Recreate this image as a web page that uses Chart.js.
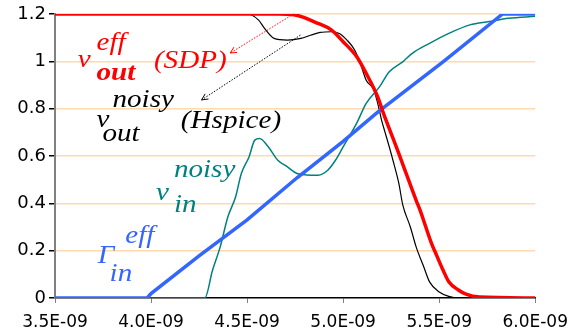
<!DOCTYPE html>
<html>
<head>
<meta charset="utf-8">
<script src="https://cdn.jsdelivr.net/npm/chart.js@4"></script>
<style>
  html, body { margin: 0; padding: 0; background: #fff; }
  #chart { display: block; }
</style>
</head>
<body>
<canvas id="chart" width="577" height="333"></canvas>
<script>
// time in ns, labels are written as x.xE-09
const xTicks = [3.5, 4.0, 4.5, 5.0, 5.5, 6.0];
const yTicks = [0, 0.2, 0.4, 0.6, 0.8, 1, 1.2];

// v_out eff (SDP) - red
const voutEffT = [3.5, 4.66, 4.75, 4.87, 4.94, 5.00, 5.07, 5.12, 5.18, 5.21, 5.25, 5.29, 5.34, 5.38, 5.40, 5.43, 5.46, 5.49, 5.52, 5.55, 5.60, 5.64, 5.71, 6.0];
const voutEffV = [1.2, 1.2, 1.196, 1.16, 1.132, 1.083, 1.02, 0.949, 0.85, 0.78, 0.695, 0.61, 0.50, 0.413, 0.372, 0.301, 0.231, 0.174, 0.118, 0.069, 0.034, 0.016, 0.004, 0];

// v_out noisy (Hspice) - black
const voutNoisyT = [3.5, 4.50, 4.56, 4.59, 4.64, 4.71, 4.78, 4.83, 4.88, 4.94, 4.98, 5.02, 5.06, 5.09, 5.12, 5.16, 5.18, 5.20, 5.22, 5.24, 5.26, 5.29, 5.31, 5.35, 5.38, 5.42, 5.45, 5.50, 5.55, 5.60, 6.0];
const voutNoisyV = [1.2, 1.2, 1.174, 1.14, 1.097, 1.09, 1.097, 1.11, 1.122, 1.125, 1.118, 1.09, 1.048, 0.99, 0.92, 0.879, 0.822, 0.752, 0.695, 0.639, 0.58, 0.484, 0.395, 0.3, 0.216, 0.131, 0.068, 0.025, 0.007, 0, 0];

// v_in noisy - teal
const vinNoisyT = [3.5, 4.28, 4.32, 4.36, 4.40, 4.44, 4.47, 4.51, 4.54, 4.565, 4.61, 4.66, 4.71, 4.76, 4.81, 4.87, 4.92, 4.96, 5.00, 5.07, 5.12, 5.19, 5.24, 5.31, 5.36, 5.45, 5.55, 5.66, 5.76, 5.86, 6.0];
const vinNoisyV = [0, 0, 0.117, 0.216, 0.343, 0.427, 0.526, 0.596, 0.667, 0.674, 0.639, 0.582, 0.554, 0.526, 0.52, 0.519, 0.54, 0.582, 0.639, 0.738, 0.822, 0.893, 0.956, 0.998, 1.034, 1.076, 1.118, 1.154, 1.168, 1.182, 1.19];

// Gamma_in eff - blue
const gammaEffT = [3.5, 3.98, 4.0, 4.25, 4.5, 4.76, 5.0, 5.18, 5.52, 5.83, 6.0];
const gammaEffV = [0, 0, 0.019, 0.178, 0.33, 0.508, 0.662, 0.785, 0.998, 1.2, 1.2];

function toPoints(ts, vs) {
    return ts.map((t, i) => ({ x: t, y: vs[i] }));
}

// text labels and arrows, positioned in data units
const serif = "'Liberation Serif', Tinos, 'Times New Roman', Times, serif";
const it26 = 'italic 26px ' + serif;
const textLabels = [
    { text: 'v', x: 3.619, y: 0.976, color: '#FF0000', font: it26 },
    { text: 'eff', x: 3.716, y: 1.048, color: '#FF0000', font: it26 },
    { text: 'out', x: 3.716, y: 0.921, color: '#FF0000', font: 'italic bold 26px ' + serif },
    { text: '(SDP)', x: 4.015, y: 0.972, color: '#FF0000', font: it26 },
    { text: 'noisy', x: 3.799, y: 0.807, color: '#000000', font: it26 },
    { text: 'v', x: 3.716, y: 0.7225, color: '#000000', font: it26 },
    { text: 'out', x: 3.747, y: 0.663, color: '#000000', font: it26 },
    { text: '(Hspice)', x: 4.155, y: 0.718, color: '#000000', font: it26 },
    { text: 'noisy', x: 4.119, y: 0.511, color: '#008080', font: it26 },
    { text: 'v', x: 4.026, y: 0.414, color: '#008080', font: it26 },
    { text: 'in', x: 4.119, y: 0.363, color: '#008080', font: it26 },
    { text: 'eff', x: 3.866, y: 0.232, color: '#3366FF', font: it26 },
    { text: '\u0393', x: 3.722, y: 0.148, color: '#3366FF', font: it26 },
    { text: 'in', x: 3.784, y: 0.072, color: '#3366FF', font: it26 }
];
const arrows = [
    { x1: 4.742, y1: 1.2, x2: 4.412, y2: 1.035, color: '#FF0000' },
    { x1: 4.778, y1: 1.111, x2: 4.263, y2: 0.837, color: '#000000' }
];

const labelPlugin = {
    id: 'labelPlugin',
    afterDatasetsDraw(chart) {
        const ctx = chart.ctx;
        const xs = chart.scales.x;
        const ys = chart.scales.y;
        ctx.save();
        for (const a of arrows) {
            const x1 = xs.getPixelForValue(a.x1), y1 = ys.getPixelForValue(a.y1);
            const x2 = xs.getPixelForValue(a.x2), y2 = ys.getPixelForValue(a.y2);
            ctx.strokeStyle = a.color;
            ctx.lineWidth = 1;
            ctx.setLineDash([1.5, 1.5]);
            ctx.beginPath();
            ctx.moveTo(x1, y1);
            ctx.lineTo(x2, y2);
            ctx.stroke();
            // open arrow head
            const ang = Math.atan2(y2 - y1, x2 - x1);
            ctx.setLineDash([]);
            ctx.beginPath();
            ctx.moveTo(x2 - 7 * Math.cos(ang - 0.45), y2 - 7 * Math.sin(ang - 0.45));
            ctx.lineTo(x2, y2);
            ctx.lineTo(x2 - 7 * Math.cos(ang + 0.45), y2 - 7 * Math.sin(ang + 0.45));
            ctx.stroke();
        }
        ctx.textAlign = 'left';
        ctx.textBaseline = 'alphabetic';
        for (const l of textLabels) {
            ctx.save();
            ctx.translate(xs.getPixelForValue(l.x), ys.getPixelForValue(l.y));
            ctx.scale(1.12, 1);
            ctx.font = l.font;
            ctx.fillStyle = l.color;
            ctx.fillText(l.text, 0, 0);
            ctx.restore();
        }
        ctx.restore();
    }
};

const tickFont = { family: "'DejaVu Sans', sans-serif", size: 17 };

new Chart(document.getElementById('chart').getContext('2d'), {
    type: 'line',
    data: {
        datasets: [
            {
                label: 'v_out eff (SDP)',
                data: toPoints(voutEffT, voutEffV),
                borderColor: '#FF0000',
                borderWidth: 3.5,
                pointRadius: 0,
                cubicInterpolationMode: 'monotone'
            },
            {
                label: 'Gamma_in eff',
                data: toPoints(gammaEffT, gammaEffV),
                borderColor: '#3366FF',
                borderWidth: 3.5,
                pointRadius: 0,
                tension: 0
            },
            {
                label: 'v_in noisy',
                data: toPoints(vinNoisyT, vinNoisyV),
                borderColor: '#008080',
                borderWidth: 1.5,
                pointRadius: 0,
                cubicInterpolationMode: 'monotone'
            },
            {
                label: 'v_out noisy (Hspice)',
                data: toPoints(voutNoisyT, voutNoisyV),
                borderColor: '#000000',
                borderWidth: 1.2,
                pointRadius: 0,
                cubicInterpolationMode: 'monotone'
            }
        ]
    },
    options: {
        responsive: false,
        animation: false,
        layout: { padding: { top: 14, right: 34, left: 0, bottom: 0 } },
        plugins: {
            legend: { display: false },
            tooltip: { enabled: false }
        },
        scales: {
            x: {
                type: 'linear',
                min: 3.5,
                max: 6.0,
                afterBuildTicks: (scale) => { scale.ticks = xTicks.map(v => ({ value: v })); },
                afterFit: (scale) => { scale.height = 35; },
                border: { color: '#000000', width: 1.5 },
                grid: {
                    drawOnChartArea: false,
                    drawTicks: true,
                    tickLength: 5,
                    tickColor: '#808080'
                },
                ticks: {
                    color: '#000000',
                    font: tickFont,
                    padding: 9,
                    maxRotation: 0,
                    callback: (v) => Number(v).toFixed(1) + 'E-09'
                }
            },
            y: {
                min: 0,
                max: 1.2,
                afterBuildTicks: (scale) => { scale.ticks = yTicks.map(v => ({ value: v })); },
                afterFit: (scale) => { scale.width = 55; },
                border: { color: '#808080', width: 2 },
                grid: {
                    color: (c) => (c.tick && c.tick.value === 0) ? 'rgba(0,0,0,0)' : '#FFD9B0',
                    lineWidth: 1.5,
                    drawTicks: true,
                    tickLength: 6,
                    tickColor: '#000000'
                },
                ticks: {
                    color: '#000000',
                    font: { family: "'DejaVu Sans', sans-serif", size: 18 },
                    padding: 3,
                    callback: (v) => String(v)
                }
            }
        }
    },
    plugins: [labelPlugin]
});
</script>
</body>
</html>
